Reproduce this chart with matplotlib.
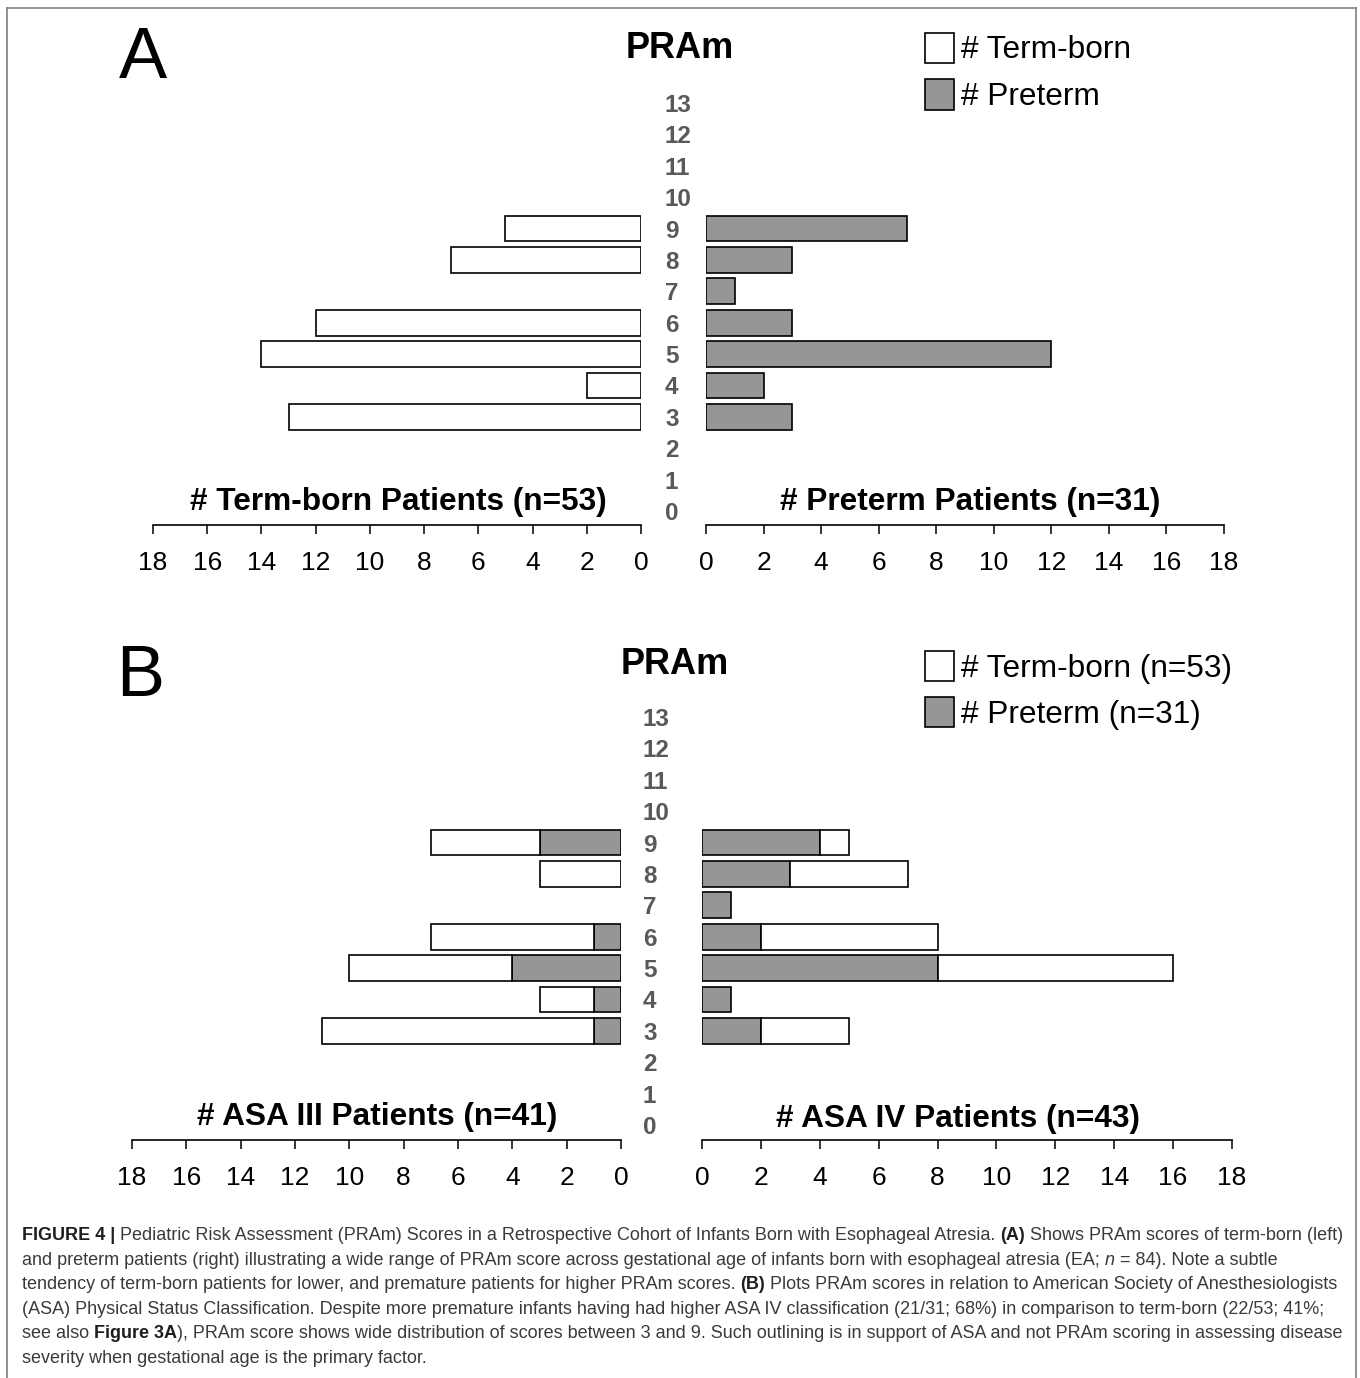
import matplotlib
matplotlib.use("Agg")
import matplotlib.pyplot as plt
import matplotlib.transforms as mtransforms
from matplotlib.patches import Rectangle
from matplotlib.lines import Line2D

# --- data -------------------------------------------------------------
scores = [3, 4, 5, 6, 7, 8, 9]
score_labels = list(range(14))
x_ticks = list(range(0, 19, 2))

term_born = [13, 2, 14, 12, 0, 7, 5]
preterm = [3, 2, 12, 3, 1, 3, 7]

asa3_preterm = [1, 1, 4, 1, 0, 0, 3]
asa3_term = [10, 2, 6, 6, 0, 3, 4]
asa4_preterm = [2, 1, 8, 2, 1, 3, 4]
asa4_term = [3, 0, 8, 6, 0, 4, 1]

caption_lines = [
    "**FIGURE 4 |** Pediatric Risk Assessment (PRAm) Scores in a Retrospective Cohort of Infants Born with Esophageal Atresia. **(A)** Shows PRAm scores of term-born (left)",
    "and preterm patients (right) illustrating a wide range of PRAm score across gestational age of infants born with esophageal atresia (EA; __n__ = 84). Note a subtle",
    "tendency of term-born patients for lower, and premature patients for higher PRAm scores. **(B)** Plots PRAm scores in relation to American Society of Anesthesiologists",
    "(ASA) Physical Status Classification. Despite more premature infants having had higher ASA IV classification (21/31; 68%) in comparison to term-born (22/53; 41%;",
    "see also **Figure 3A**), PRAm score shows wide distribution of scores between 3 and 9. Such outlining is in support of ASA and not PRAm scoring in assessing disease",
    "severity when gestational age is the primary factor.",
]

# --- style ------------------------------------------------------------
W, H = 1360, 1378
GRAY = "#969696"
SCORE_COLOR = "#595959"
SPACING = 31.38  # pixels per score step
TITLE_SIZE = 22.8
plt.rcParams["font.family"] = ["Liberation Sans", "DejaVu Sans"]

fig = plt.figure(figsize=(W / 100, H / 100), dpi=100)
fig.patch.set_facecolor("white")


def fx(x):
    return x / W


def fy(y):
    return 1 - y / H


def make_axes(x0, x1, y_axis, y_zero, invert):
    top = y_zero - 14 * SPACING
    ax = fig.add_axes([fx(x0), fy(y_axis), (x1 - x0) / W, (y_axis - top) / H])
    ax.set_ylim((y_zero - y_axis) / SPACING, 14)
    if invert:
        ax.set_xlim(18, 0)
    else:
        ax.set_xlim(0, 18)
    ax.patch.set_alpha(0)
    for side in ["left", "right", "top"]:
        ax.spines[side].set_visible(False)
    ax.spines["bottom"].set_linewidth(1.2)
    ax.spines["bottom"].set_color("black")
    ax.set_yticks([])
    ax.set_xticks(x_ticks)
    ax.tick_params(axis="x", direction="out", length=6.5, width=1.1,
                   labelsize=19, pad=12.5, colors="black")
    return ax


def draw_bars(ax, vals, color, left=None):
    if left is None:
        left = [0] * len(vals)
    ys = [s for s, v in zip(scores, vals) if v > 0]
    ws = [v for v in vals if v > 0]
    ls = [l for l, v in zip(left, vals) if v > 0]
    ax.barh(ys, ws, left=ls, height=0.82, color=color,
            edgecolor="black", linewidth=1.2)


def score_column(ax, x_px):
    tr = mtransforms.blended_transform_factory(fig.transFigure, ax.transData)
    for s in score_labels:
        fig.text(fx(x_px), s, str(s), transform=tr, ha="left", va="center_baseline",
                 fontsize=17.5, fontweight="bold", color=SCORE_COLOR)


def legend(y_first, labels):
    for i, (lab, col) in enumerate(labels):
        y = y_first + i * 46.5
        fig.patches.append(Rectangle((fx(925), fy(y + 15)), 29 / W, 30 / H,
                                     transform=fig.transFigure, facecolor=col,
                                     edgecolor="black", linewidth=1.2))
        fig.text(fx(961), fy(y - 1), lab, ha="left", va="center_baseline",
                 fontsize=22.8, color="black")


# --- panel A ----------------------------------------------------------
axA_l = make_axes(153, 641, 525, 511, invert=True)
axA_r = make_axes(706, 1224, 525, 511, invert=False)
draw_bars(axA_l, term_born, "white")
draw_bars(axA_r, preterm, GRAY)
score_column(axA_l, 665)

fig.text(fx(143), fy(52), "A", ha="center", va="center_baseline", fontsize=52)
fig.text(fx(680), fy(44), "PRAm", ha="center", va="center_baseline",
         fontsize=26, fontweight="bold")
fig.text(fx(398), fy(498), "# Term-born Patients (n=53)", ha="center",
         va="center_baseline", fontsize=TITLE_SIZE, fontweight="bold")
fig.text(fx(970), fy(498), "# Preterm Patients (n=31)", ha="center",
         va="center_baseline", fontsize=TITLE_SIZE, fontweight="bold")
legend(48, [("# Term-born", "white"), ("# Preterm", GRAY)])

# --- panel B ----------------------------------------------------------
axB_l = make_axes(132, 621, 1140, 1125, invert=True)
axB_r = make_axes(702, 1232, 1140, 1125, invert=False)
draw_bars(axB_l, asa3_preterm, GRAY)
draw_bars(axB_l, asa3_term, "white", left=asa3_preterm)
draw_bars(axB_r, asa4_preterm, GRAY)
draw_bars(axB_r, asa4_term, "white", left=asa4_preterm)
score_column(axB_l, 643)

fig.text(fx(140), fy(670), "B", ha="center", va="center_baseline", fontsize=52)
fig.text(fx(675), fy(661), "PRAm", ha="center", va="center_baseline",
         fontsize=26, fontweight="bold")
fig.text(fx(377), fy(1113), "# ASA III Patients (n=41)", ha="center",
         va="center_baseline", fontsize=TITLE_SIZE, fontweight="bold")
fig.text(fx(958), fy(1116), "# ASA IV Patients (n=43)", ha="center",
         va="center_baseline", fontsize=TITLE_SIZE, fontweight="bold")
legend(666, [("# Term-born (n=53)", "white"), ("# Preterm (n=31)", GRAY)])

# --- frame ------------------------------------------------------------
frame_kw = dict(transform=fig.transFigure, color="#808080", linewidth=1.2)
fig.add_artist(Line2D([fx(7), fx(1356)], [fy(8), fy(8)], **frame_kw))
fig.add_artist(Line2D([fx(7), fx(7)], [fy(8), 0], **frame_kw))
fig.add_artist(Line2D([fx(1356), fx(1356)], [fy(8), 0], **frame_kw))

# --- caption ----------------------------------------------------------
def parse(line):
    runs, buf, bold, ital, i = [], "", False, False, 0
    while i < len(line):
        if line.startswith("**", i) or line.startswith("__", i):
            if buf:
                runs.append((buf, bold, ital))
                buf = ""
            if line[i] == "*":
                bold = not bold
            else:
                ital = not ital
            i += 2
        else:
            buf += line[i]
            i += 1
    if buf:
        runs.append((buf, bold, ital))
    return runs


renderer = fig.canvas.get_renderer()


def run_width(s, bold, ital, size):
    kw = dict(fontsize=size, fontweight="bold" if bold else "normal",
              fontstyle="italic" if ital else "normal")
    t = fig.text(0, 0, s + "x", **kw)
    w1 = t.get_window_extent(renderer).width
    t.set_text("x")
    w2 = t.get_window_extent(renderer).width
    t.remove()
    return w1 - w2


ref = 12.0
w_line1 = sum(run_width(s, b, it, ref) for s, b, it in parse(caption_lines[0]))
cap_size = ref * 1319 / w_line1

for k, line in enumerate(caption_lines):
    x = 22
    y = 1240 + k * 24.6
    for s, b, it in parse(line):
        fig.text(fx(x), fy(y), s, ha="left", va="baseline", fontsize=cap_size,
                 fontweight="bold" if b else "normal",
                 fontstyle="italic" if it else "normal",
                 color="#1e1e1e" if b else "#3a3a3a")
        x += run_width(s, b, it, cap_size)

fig.savefig("out.png", dpi=100, facecolor="white")
